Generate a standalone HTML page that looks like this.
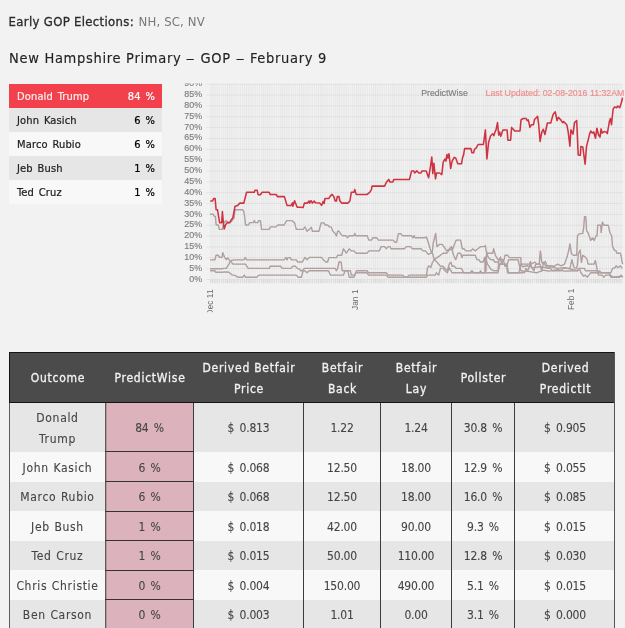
<!DOCTYPE html>
<html lang="en"><head><meta charset="utf-8"><title>PredictWise - New Hampshire Primary - GOP</title>
<style>
*{box-sizing:border-box}
html,body{margin:0;padding:0}
body{width:625px;height:628px;overflow:hidden;background:#f2f2f2;font-family:"DejaVu Sans Condensed","Liberation Sans",sans-serif;color:#222;position:relative;-webkit-text-stroke:.22px}
.abs{position:absolute;white-space:nowrap}
#nav{left:8.6px;top:13px;font-size:13px;line-height:18px;letter-spacing:.32px;color:#2b2b2b}
#nav b{font-weight:normal;-webkit-text-stroke:.3px}
#nav span{color:#777;-webkit-text-stroke:0;letter-spacing:.15px;margin-left:.5px}
#nav a{color:#777;text-decoration:none}
#title{left:9px;top:47px;font-size:14.5px;line-height:22px;letter-spacing:.7px;word-spacing:0;color:#222;font-weight:normal;margin:0;-webkit-text-stroke:.12px}
#title i{font-style:normal;display:inline-block;transform:scaleX(1.35);margin:0 1.1px}
#list{left:9px;top:84px;width:153px;margin:0;padding:0;list-style:none}
#list li{height:23.92px;line-height:23.9px;font-size:11px;letter-spacing:.15px;word-spacing:1.5px;padding:1px 7px 0 8px;display:flex;justify-content:space-between;color:#222}
#list li:nth-child(even){background:#e6e6e6}
#list li:nth-child(odd){background:#f8f8f8}
#list li.sel{background:#f2414d;color:#fdeeee}
#list li b{font-weight:normal;color:#000}
#list li.sel b{color:#fff}
#chart{left:0;top:0;width:625px;height:628px;pointer-events:none}
#chart text{font-family:"Liberation Sans",sans-serif;-webkit-text-stroke:0 transparent;stroke-width:.18px;stroke-linejoin:round}
#chart text.rl{stroke:none;letter-spacing:.1px}
#chart{filter:blur(.35px)}
#tbl{display:block;left:0;top:0;width:625px;height:628px;font-size:12px;letter-spacing:.6px;text-align:center;border-collapse:separate;border-spacing:0;margin:0;padding:0}
#tbl thead,#tbl tbody{display:block}
#tbl .r{display:block}
#tbl th,#tbl td{font-weight:normal;padding:0;margin:0}
#tl{left:0;top:0;width:625px;height:628px}
#tbl .r{position:absolute;left:9px;width:606px}
#tbl .c{position:absolute;top:0;height:100%;display:flex;align-items:center;justify-content:center;line-height:21px;white-space:normal;color:#444;padding-top:3px;-webkit-text-stroke:.1px;letter-spacing:-.2px;word-spacing:2px}
#tbl .c.n{letter-spacing:.68px;word-spacing:.5px}
#tbl .h{background:#4b4b4b;border-top:1px solid #141414}
#tbl .h .c{color:#f2f2f2;letter-spacing:.75px;word-spacing:0;-webkit-text-stroke:.3px;padding-top:1px;padding-left:1px}
#tbl .o{background:#e6e6e6}
#tbl .e{background:#f8f8f8}
#tbl .pw{background:#dcb3bd}
#tl .vl{position:absolute;width:1px;background:#3c3c3c}
#tl .hl{position:absolute;height:1px;background:#333}
</style></head>
<body>
<div id="nav" class="abs"><b>Early GOP Elections:</b> <span><a>NH</a>, <a>SC</a>, <a>NV</a></span></div>
<h2 id="title" class="abs">New Hampshire Primary <i>–</i> GOP <i>–</i> February 9</h2>
<ul id="list" class="abs"><li class=sel><span>Donald Trump</span><b>84 %</b></li><li><span>John Kasich</span><b>6 %</b></li><li><span>Marco Rubio</span><b>6 %</b></li><li><span>Jeb Bush</span><b>1 %</b></li><li><span>Ted Cruz</span><b>1 %</b></li></ul>
<svg id="chart" class="abs" width="625" height="628" viewBox="0 0 625 628">
<defs><clipPath id="cp"><rect x="170" y="83.4" width="455" height="228.8"/></clipPath><pattern id="vg" x="210.2" y="0" width="2.115" height="10" patternUnits="userSpaceOnUse"><rect x="0" y="0" width="1.05" height="10" fill="#e7e7e7"/></pattern><pattern id="vt" x="210.2" y="0" width="2.115" height="10" patternUnits="userSpaceOnUse"><rect x="0" y="0" width="1.05" height="10" fill="#d9d9d9"/></pattern></defs>
<g clip-path="url(#cp)">
<rect x="210.2" y="75" width="412.59999999999997" height="208.2" fill="#f2f2f2"/>
<rect x="210.2" y="75" width="412.59999999999997" height="208.2" fill="url(#vg)"/>
<rect x="210.2" y="280" width="412.59999999999997" height="3.2" fill="url(#vt)"/>
<line x1="206" x2="622.8" y1="279.50" y2="279.50" stroke="#000" stroke-opacity=".06" stroke-width="0.9"/>
<text transform="translate(202.1,281.80) scale(.95,1)" font-size="9.4" fill="#808080" stroke="#808080" text-anchor="end">0%</text>
<line x1="206" x2="622.8" y1="268.65" y2="268.65" stroke="#000" stroke-opacity=".06" stroke-width="0.9"/>
<text transform="translate(202.1,270.93) scale(.95,1)" font-size="9.4" fill="#808080" stroke="#808080" text-anchor="end">5%</text>
<line x1="206" x2="622.8" y1="257.80" y2="257.80" stroke="#000" stroke-opacity=".06" stroke-width="0.9"/>
<text transform="translate(202.1,260.06) scale(.95,1)" font-size="9.4" fill="#808080" stroke="#808080" text-anchor="end">10%</text>
<line x1="206" x2="622.8" y1="246.95" y2="246.95" stroke="#000" stroke-opacity=".06" stroke-width="0.9"/>
<text transform="translate(202.1,249.19) scale(.95,1)" font-size="9.4" fill="#808080" stroke="#808080" text-anchor="end">15%</text>
<line x1="206" x2="622.8" y1="236.10" y2="236.10" stroke="#000" stroke-opacity=".06" stroke-width="0.9"/>
<text transform="translate(202.1,238.32) scale(.95,1)" font-size="9.4" fill="#808080" stroke="#808080" text-anchor="end">20%</text>
<line x1="206" x2="622.8" y1="225.25" y2="225.25" stroke="#000" stroke-opacity=".06" stroke-width="0.9"/>
<text transform="translate(202.1,227.45) scale(.95,1)" font-size="9.4" fill="#808080" stroke="#808080" text-anchor="end">25%</text>
<line x1="206" x2="622.8" y1="214.40" y2="214.40" stroke="#000" stroke-opacity=".06" stroke-width="0.9"/>
<text transform="translate(202.1,216.58) scale(.95,1)" font-size="9.4" fill="#808080" stroke="#808080" text-anchor="end">30%</text>
<line x1="206" x2="622.8" y1="203.55" y2="203.55" stroke="#000" stroke-opacity=".06" stroke-width="0.9"/>
<text transform="translate(202.1,205.71) scale(.95,1)" font-size="9.4" fill="#808080" stroke="#808080" text-anchor="end">35%</text>
<line x1="206" x2="622.8" y1="192.70" y2="192.70" stroke="#000" stroke-opacity=".06" stroke-width="0.9"/>
<text transform="translate(202.1,194.84) scale(.95,1)" font-size="9.4" fill="#808080" stroke="#808080" text-anchor="end">40%</text>
<line x1="206" x2="622.8" y1="181.85" y2="181.85" stroke="#000" stroke-opacity=".06" stroke-width="0.9"/>
<text transform="translate(202.1,183.97) scale(.95,1)" font-size="9.4" fill="#808080" stroke="#808080" text-anchor="end">45%</text>
<line x1="206" x2="622.8" y1="171.00" y2="171.00" stroke="#000" stroke-opacity=".06" stroke-width="0.9"/>
<text transform="translate(202.1,173.10) scale(.95,1)" font-size="9.4" fill="#808080" stroke="#808080" text-anchor="end">50%</text>
<line x1="206" x2="622.8" y1="160.15" y2="160.15" stroke="#000" stroke-opacity=".06" stroke-width="0.9"/>
<text transform="translate(202.1,162.23) scale(.95,1)" font-size="9.4" fill="#808080" stroke="#808080" text-anchor="end">55%</text>
<line x1="206" x2="622.8" y1="149.30" y2="149.30" stroke="#000" stroke-opacity=".06" stroke-width="0.9"/>
<text transform="translate(202.1,151.36) scale(.95,1)" font-size="9.4" fill="#808080" stroke="#808080" text-anchor="end">60%</text>
<line x1="206" x2="622.8" y1="138.45" y2="138.45" stroke="#000" stroke-opacity=".06" stroke-width="0.9"/>
<text transform="translate(202.1,140.49) scale(.95,1)" font-size="9.4" fill="#808080" stroke="#808080" text-anchor="end">65%</text>
<line x1="206" x2="622.8" y1="127.60" y2="127.60" stroke="#000" stroke-opacity=".06" stroke-width="0.9"/>
<text transform="translate(202.1,129.62) scale(.95,1)" font-size="9.4" fill="#808080" stroke="#808080" text-anchor="end">70%</text>
<line x1="206" x2="622.8" y1="116.75" y2="116.75" stroke="#000" stroke-opacity=".06" stroke-width="0.9"/>
<text transform="translate(202.1,118.75) scale(.95,1)" font-size="9.4" fill="#808080" stroke="#808080" text-anchor="end">75%</text>
<line x1="206" x2="622.8" y1="105.90" y2="105.90" stroke="#000" stroke-opacity=".06" stroke-width="0.9"/>
<text transform="translate(202.1,107.88) scale(.95,1)" font-size="9.4" fill="#808080" stroke="#808080" text-anchor="end">80%</text>
<line x1="206" x2="622.8" y1="95.05" y2="95.05" stroke="#000" stroke-opacity=".06" stroke-width="0.9"/>
<text transform="translate(202.1,97.01) scale(.95,1)" font-size="9.4" fill="#808080" stroke="#808080" text-anchor="end">85%</text>
<line x1="206" x2="622.8" y1="84.20" y2="84.20" stroke="#000" stroke-opacity=".06" stroke-width="0.9"/>
<text transform="translate(202.1,86.14) scale(.95,1)" font-size="9.4" fill="#808080" stroke="#808080" text-anchor="end">90%</text>
<polyline fill="none" stroke="#ababab" stroke-width="1.4" stroke-linejoin="round" points="210.2,270.7 214.9,270.7 215.8,272.3 222.8,272.3 224.5,271.9 228.9,272.3 232.4,275.1 235.0,275.4 237.7,277.2 242.9,277.2 244.3,275.1 245.5,277.2 256.9,277.2 258.7,275.1 296.3,275.1 298.1,277.2 300.0,277.2 301.4,277.2 303.1,270.7 304.9,270.7 307.0,272.8 309.3,270.7 328.5,270.7 330.3,275.1 343.4,275.1 345.2,270.7 347.8,270.7 349.2,277.2 353.9,277.2 355.7,272.8 367.1,272.8 368.5,275.1 386.3,275.1 388.1,277.2 390.0,277.2 426.4,277.2 427.6,275.1 435.2,275.1 436.4,272.8 438.7,275.1 440.4,268.4 443.1,268.4 444.8,270.7 447.4,272.8 449.2,267.6 450.9,270.7 452.1,272.8 471.1,272.8 498.0,272.8 499.8,264.1 506.8,264.1 508.5,272.8 522.5,272.8 526.0,271.1 531.3,271.9 536.5,272.8 543.6,270.2 548.8,271.1 557.6,269.7 564.6,271.1 577.5,270.7 579.3,268.4 581.0,272.8 583.7,276.3 585.4,275.1 587.2,277.2 588.9,275.1 590.7,272.8 596.8,272.8 609.1,272.8 610.8,277.2 622.7,276.3"/>
<polyline fill="none" stroke="#cc7c7c" stroke-opacity=".8" stroke-width=".7" stroke-dasharray="1.1 1" stroke-linejoin="round" points="210.2,270.7 214.9,270.7 215.8,272.3 222.8,272.3 224.5,271.9 228.9,272.3 232.4,275.1 235.0,275.4 237.7,277.2 242.9,277.2 244.3,275.1 245.5,277.2 256.9,277.2 258.7,275.1 296.3,275.1 298.1,277.2 300.0,277.2 301.4,277.2 303.1,270.7 304.9,270.7 307.0,272.8 309.3,270.7 328.5,270.7 330.3,275.1 343.4,275.1 345.2,270.7 347.8,270.7 349.2,277.2 353.9,277.2 355.7,272.8 367.1,272.8 368.5,275.1 386.3,275.1 388.1,277.2 390.0,277.2 426.4,277.2 427.6,275.1 435.2,275.1 436.4,272.8 438.7,275.1 440.4,268.4 443.1,268.4 444.8,270.7 447.4,272.8 449.2,267.6 450.9,270.7 452.1,272.8 471.1,272.8 498.0,272.8 499.8,264.1 506.8,264.1 508.5,272.8 522.5,272.8 526.0,271.1 531.3,271.9 536.5,272.8 543.6,270.2 548.8,271.1 557.6,269.7 564.6,271.1 577.5,270.7 579.3,268.4 581.0,272.8 583.7,276.3 585.4,275.1 587.2,277.2 588.9,275.1 590.7,272.8 596.8,272.8 609.1,272.8 610.8,277.2 622.7,276.3"/>
<polyline fill="none" stroke="#ababab" stroke-width="1.4" stroke-linejoin="round" points="210.2,259.9 214.9,259.9 216.1,255.3 218.4,255.3 219.3,257.4 221.9,257.4 222.8,252.7 224.5,257.1 226.3,259.7 227.7,257.9 229.8,260.6 231.5,262.3 232.9,264.1 245.5,264.1 248.2,268.4 269.2,268.4 270.1,266.2 280.6,266.2 282.3,268.4 291.1,268.4 292.8,266.2 295.4,266.2 297.2,268.4 300.0,269.3 300.5,270.7 302.3,270.7 304.4,268.4 335.2,268.4 336.4,270.7 337.6,268.4 339.0,262.0 341.1,262.0 342.2,270.7 350.4,270.7 351.3,275.1 354.8,275.1 356.6,270.7 367.1,270.7 368.5,272.8 386.3,272.8 388.1,275.1 390.0,275.1 390.5,275.1 402.8,275.1 404.5,277.2 407.1,277.2 408.9,275.1 426.4,275.1 427.6,267.6 429.0,265.8 430.8,267.6 432.5,262.3 434.3,259.7 436.9,262.0 440.4,266.3 443.1,266.3 445.1,268.4 447.4,270.7 449.2,264.1 450.9,262.3 452.1,266.3 454.4,266.3 456.2,268.4 461.4,268.4 463.7,272.8 470.2,272.8 471.9,270.7 473.7,272.8 474.4,272.8 479.6,272.8 480.5,270.7 481.4,272.8 484.9,272.8 485.4,257.1 487.5,264.1 491.0,269.3 493.6,270.7 498.0,270.7 498.9,259.7 500.6,257.1 501.5,264.1 503.3,259.7 505.0,266.3 506.8,266.3 507.6,272.8 519.0,272.8 520.8,264.1 522.5,266.7 527.8,265.8 533.0,267.6 540.0,266.7 545.3,267.6 550.6,266.7 557.6,268.4 564.6,267.6 577.5,270.7 579.3,268.4 584.5,268.4 585.4,270.7 596.8,270.7 598.6,275.1 602.1,275.1 603.8,277.2 605.6,275.1 610.8,275.1 612.6,277.2 619.6,277.2 621.0,275.1 622.7,277.2"/>
<polyline fill="none" stroke="#cc7c7c" stroke-opacity=".8" stroke-width=".7" stroke-dasharray="1.1 1" stroke-linejoin="round" points="210.2,259.9 214.9,259.9 216.1,255.3 218.4,255.3 219.3,257.4 221.9,257.4 222.8,252.7 224.5,257.1 226.3,259.7 227.7,257.9 229.8,260.6 231.5,262.3 232.9,264.1 245.5,264.1 248.2,268.4 269.2,268.4 270.1,266.2 280.6,266.2 282.3,268.4 291.1,268.4 292.8,266.2 295.4,266.2 297.2,268.4 300.0,269.3 300.5,270.7 302.3,270.7 304.4,268.4 335.2,268.4 336.4,270.7 337.6,268.4 339.0,262.0 341.1,262.0 342.2,270.7 350.4,270.7 351.3,275.1 354.8,275.1 356.6,270.7 367.1,270.7 368.5,272.8 386.3,272.8 388.1,275.1 390.0,275.1 390.5,275.1 402.8,275.1 404.5,277.2 407.1,277.2 408.9,275.1 426.4,275.1 427.6,267.6 429.0,265.8 430.8,267.6 432.5,262.3 434.3,259.7 436.9,262.0 440.4,266.3 443.1,266.3 445.1,268.4 447.4,270.7 449.2,264.1 450.9,262.3 452.1,266.3 454.4,266.3 456.2,268.4 461.4,268.4 463.7,272.8 470.2,272.8 471.9,270.7 473.7,272.8 474.4,272.8 479.6,272.8 480.5,270.7 481.4,272.8 484.9,272.8 485.4,257.1 487.5,264.1 491.0,269.3 493.6,270.7 498.0,270.7 498.9,259.7 500.6,257.1 501.5,264.1 503.3,259.7 505.0,266.3 506.8,266.3 507.6,272.8 519.0,272.8 520.8,264.1 522.5,266.7 527.8,265.8 533.0,267.6 540.0,266.7 545.3,267.6 550.6,266.7 557.6,268.4 564.6,267.6 577.5,270.7 579.3,268.4 584.5,268.4 585.4,270.7 596.8,270.7 598.6,275.1 602.1,275.1 603.8,277.2 605.6,275.1 610.8,275.1 612.6,277.2 619.6,277.2 621.0,275.1 622.7,277.2"/>
<polyline fill="none" stroke="#ababab" stroke-width="1.4" stroke-linejoin="round" points="210.2,268.8 221.9,268.8 223.6,268.4 226.3,268.4 228.9,264.1 230.7,260.6 234.2,259.9 243.8,259.9 245.2,257.6 246.6,259.9 284.1,259.9 285.8,257.6 287.0,259.9 287.9,257.6 290.2,257.6 291.4,259.9 296.3,259.9 297.7,262.0 300.0,262.0 302.3,262.0 304.9,257.4 307.0,259.7 309.3,257.4 321.5,257.4 323.3,259.7 325.9,262.0 327.6,262.0 328.9,257.6 336.4,257.6 337.6,255.3 341.7,255.3 343.4,248.8 346.4,253.2 349.2,248.8 351.3,250.9 353.9,250.9 356.2,253.2 367.1,253.2 368.8,250.9 379.3,250.9 381.1,246.6 384.6,246.6 386.3,248.8 388.4,246.6 390.0,246.6 390.9,248.8 404.5,248.8 406.3,246.6 410.6,246.6 412.4,248.8 421.2,248.8 422.9,250.9 425.5,250.9 428.2,254.4 430.8,253.2 432.5,253.2 434.3,259.7 436.9,257.6 440.4,255.3 443.1,253.2 446.6,253.2 449.2,250.1 451.8,248.8 453.6,255.3 455.7,259.7 457.9,253.2 460.6,253.2 462.0,257.6 462.7,255.3 471.1,255.3 475.2,255.3 477.0,259.7 478.8,259.7 480.5,262.0 483.1,262.0 484.9,257.1 485.9,271.1 486.6,253.2 488.4,257.6 491.0,259.7 493.6,259.7 494.5,262.0 498.0,262.0 498.9,264.1 505.0,264.1 506.8,266.3 508.5,259.7 512.0,259.7 515.5,259.7 518.2,259.7 519.0,264.1 520.8,270.7 522.5,270.7 524.3,272.8 526.0,268.4 527.8,270.7 530.4,264.1 532.2,268.4 533.9,270.7 535.7,264.1 540.0,264.1 541.8,270.7 543.6,262.3 547.1,268.4 550.6,268.4 552.3,270.7 561.1,270.7 562.8,268.4 570.0,268.4 570.5,265.8 571.9,259.7 574.0,267.6 576.7,268.4 577.5,264.1 578.4,253.6 580.2,250.1 581.4,262.3 582.8,255.3 585.4,257.1 587.2,259.7 588.0,264.1 594.2,264.1 595.4,260.6 596.8,267.6 597.7,272.8 599.4,270.7 601.2,272.8 610.8,272.8 612.6,268.4 615.2,267.6 616.1,265.8 617.8,267.6 620.5,265.8 622.2,268.4"/>
<polyline fill="none" stroke="#cc7c7c" stroke-opacity=".8" stroke-width=".7" stroke-dasharray="1.1 1" stroke-linejoin="round" points="210.2,268.8 221.9,268.8 223.6,268.4 226.3,268.4 228.9,264.1 230.7,260.6 234.2,259.9 243.8,259.9 245.2,257.6 246.6,259.9 284.1,259.9 285.8,257.6 287.0,259.9 287.9,257.6 290.2,257.6 291.4,259.9 296.3,259.9 297.7,262.0 300.0,262.0 302.3,262.0 304.9,257.4 307.0,259.7 309.3,257.4 321.5,257.4 323.3,259.7 325.9,262.0 327.6,262.0 328.9,257.6 336.4,257.6 337.6,255.3 341.7,255.3 343.4,248.8 346.4,253.2 349.2,248.8 351.3,250.9 353.9,250.9 356.2,253.2 367.1,253.2 368.8,250.9 379.3,250.9 381.1,246.6 384.6,246.6 386.3,248.8 388.4,246.6 390.0,246.6 390.9,248.8 404.5,248.8 406.3,246.6 410.6,246.6 412.4,248.8 421.2,248.8 422.9,250.9 425.5,250.9 428.2,254.4 430.8,253.2 432.5,253.2 434.3,259.7 436.9,257.6 440.4,255.3 443.1,253.2 446.6,253.2 449.2,250.1 451.8,248.8 453.6,255.3 455.7,259.7 457.9,253.2 460.6,253.2 462.0,257.6 462.7,255.3 471.1,255.3 475.2,255.3 477.0,259.7 478.8,259.7 480.5,262.0 483.1,262.0 484.9,257.1 485.9,271.1 486.6,253.2 488.4,257.6 491.0,259.7 493.6,259.7 494.5,262.0 498.0,262.0 498.9,264.1 505.0,264.1 506.8,266.3 508.5,259.7 512.0,259.7 515.5,259.7 518.2,259.7 519.0,264.1 520.8,270.7 522.5,270.7 524.3,272.8 526.0,268.4 527.8,270.7 530.4,264.1 532.2,268.4 533.9,270.7 535.7,264.1 540.0,264.1 541.8,270.7 543.6,262.3 547.1,268.4 550.6,268.4 552.3,270.7 561.1,270.7 562.8,268.4 570.0,268.4 570.5,265.8 571.9,259.7 574.0,267.6 576.7,268.4 577.5,264.1 578.4,253.6 580.2,250.1 581.4,262.3 582.8,255.3 585.4,257.1 587.2,259.7 588.0,264.1 594.2,264.1 595.4,260.6 596.8,267.6 597.7,272.8 599.4,270.7 601.2,272.8 610.8,272.8 612.6,268.4 615.2,267.6 616.1,265.8 617.8,267.6 620.5,265.8 622.2,268.4"/>
<polyline fill="none" stroke="#ababab" stroke-width="1.4" stroke-linejoin="round" points="210.2,214.2 213.1,214.2 214.4,216.4 215.4,216.4 216.1,224.7 218.4,225.2 219.3,229.4 222.4,229.4 223.6,222.9 226.3,220.6 228.0,222.9 230.7,222.0 232.4,220.3 234.2,217.7 235.0,209.8 242.9,209.8 244.1,212.4 245.5,225.0 248.2,225.0 249.9,222.6 253.4,222.6 254.3,220.6 255.3,222.6 257.8,222.6 258.7,220.6 260.4,220.6 261.6,229.4 269.2,229.4 270.4,226.9 276.2,226.9 277.9,225.0 284.1,225.0 286.7,220.6 291.9,220.6 294.6,222.9 296.3,229.4 300.0,229.4 303.1,229.4 304.9,226.9 307.0,231.3 309.3,229.4 311.4,227.3 312.4,231.3 318.9,231.3 321.2,222.9 324.1,222.9 325.0,225.0 327.6,225.0 329.4,226.9 331.2,226.9 332.9,231.3 335.2,233.4 336.4,236.0 337.6,231.3 339.0,231.3 340.8,233.9 342.5,235.7 346.4,235.7 347.4,237.8 349.2,235.7 353.9,235.7 354.8,233.4 355.7,235.7 367.1,235.7 368.8,240.1 371.4,240.1 372.7,237.8 376.7,237.8 378.4,240.1 390.0,240.1 393.1,240.1 394.9,242.2 396.6,242.2 398.4,233.8 401.0,233.8 402.4,235.7 411.5,235.7 412.9,237.8 414.1,235.7 415.0,237.8 424.7,237.8 426.4,236.9 428.2,242.2 430.8,250.9 432.2,252.7 433.4,242.2 435.7,233.4 436.9,246.6 439.5,244.4 442.2,244.4 443.9,246.6 446.6,250.9 449.2,249.2 451.4,246.6 452.7,249.2 454.4,244.4 456.2,240.1 460.6,240.1 462.3,248.8 464.1,248.8 465.8,250.9 471.1,250.9 472.6,248.8 475.2,250.9 477.9,248.8 480.5,246.6 484.0,246.6 485.4,245.7 486.1,250.9 487.5,253.2 492.8,253.2 493.6,248.8 495.4,255.3 498.0,259.7 504.1,259.7 505.0,255.3 507.6,255.3 509.4,257.6 520.8,257.6 521.1,264.1 529.5,264.1 530.4,261.4 531.3,264.1 534.8,262.0 536.5,264.1 539.2,264.1 540.4,250.9 541.8,262.3 543.6,264.1 545.3,261.4 547.1,265.8 550.6,265.8 554.1,266.3 557.6,264.1 561.1,265.8 564.6,264.1 567.0,257.1 568.8,250.1 570.0,243.9 571.4,253.6 573.2,255.3 576.7,255.3 577.5,236.0 578.9,233.9 582.8,233.4 583.7,227.3 584.5,216.8 585.8,216.8 586.6,230.8 588.0,232.5 589.8,237.8 590.7,240.4 592.4,237.8 594.2,240.4 595.9,236.0 597.1,235.7 597.7,225.2 600.7,225.2 601.2,232.5 602.4,222.0 603.8,225.2 608.2,225.2 609.9,232.5 611.7,236.0 612.6,246.6 614.3,250.1 616.1,250.9 616.9,253.2 620.5,253.2 621.3,257.1 622.2,262.3 622.7,264.1"/>
<polyline fill="none" stroke="#cc7c7c" stroke-opacity=".8" stroke-width=".7" stroke-dasharray="1.1 1" stroke-linejoin="round" points="210.2,214.2 213.1,214.2 214.4,216.4 215.4,216.4 216.1,224.7 218.4,225.2 219.3,229.4 222.4,229.4 223.6,222.9 226.3,220.6 228.0,222.9 230.7,222.0 232.4,220.3 234.2,217.7 235.0,209.8 242.9,209.8 244.1,212.4 245.5,225.0 248.2,225.0 249.9,222.6 253.4,222.6 254.3,220.6 255.3,222.6 257.8,222.6 258.7,220.6 260.4,220.6 261.6,229.4 269.2,229.4 270.4,226.9 276.2,226.9 277.9,225.0 284.1,225.0 286.7,220.6 291.9,220.6 294.6,222.9 296.3,229.4 300.0,229.4 303.1,229.4 304.9,226.9 307.0,231.3 309.3,229.4 311.4,227.3 312.4,231.3 318.9,231.3 321.2,222.9 324.1,222.9 325.0,225.0 327.6,225.0 329.4,226.9 331.2,226.9 332.9,231.3 335.2,233.4 336.4,236.0 337.6,231.3 339.0,231.3 340.8,233.9 342.5,235.7 346.4,235.7 347.4,237.8 349.2,235.7 353.9,235.7 354.8,233.4 355.7,235.7 367.1,235.7 368.8,240.1 371.4,240.1 372.7,237.8 376.7,237.8 378.4,240.1 390.0,240.1 393.1,240.1 394.9,242.2 396.6,242.2 398.4,233.8 401.0,233.8 402.4,235.7 411.5,235.7 412.9,237.8 414.1,235.7 415.0,237.8 424.7,237.8 426.4,236.9 428.2,242.2 430.8,250.9 432.2,252.7 433.4,242.2 435.7,233.4 436.9,246.6 439.5,244.4 442.2,244.4 443.9,246.6 446.6,250.9 449.2,249.2 451.4,246.6 452.7,249.2 454.4,244.4 456.2,240.1 460.6,240.1 462.3,248.8 464.1,248.8 465.8,250.9 471.1,250.9 472.6,248.8 475.2,250.9 477.9,248.8 480.5,246.6 484.0,246.6 485.4,245.7 486.1,250.9 487.5,253.2 492.8,253.2 493.6,248.8 495.4,255.3 498.0,259.7 504.1,259.7 505.0,255.3 507.6,255.3 509.4,257.6 520.8,257.6 521.1,264.1 529.5,264.1 530.4,261.4 531.3,264.1 534.8,262.0 536.5,264.1 539.2,264.1 540.4,250.9 541.8,262.3 543.6,264.1 545.3,261.4 547.1,265.8 550.6,265.8 554.1,266.3 557.6,264.1 561.1,265.8 564.6,264.1 567.0,257.1 568.8,250.1 570.0,243.9 571.4,253.6 573.2,255.3 576.7,255.3 577.5,236.0 578.9,233.9 582.8,233.4 583.7,227.3 584.5,216.8 585.8,216.8 586.6,230.8 588.0,232.5 589.8,237.8 590.7,240.4 592.4,237.8 594.2,240.4 595.9,236.0 597.1,235.7 597.7,225.2 600.7,225.2 601.2,232.5 602.4,222.0 603.8,225.2 608.2,225.2 609.9,232.5 611.7,236.0 612.6,246.6 614.3,250.1 616.1,250.9 616.9,253.2 620.5,253.2 621.3,257.1 622.2,262.3 622.7,264.1"/>
<polyline fill="none" stroke="#cf3340" stroke-width="1.55" stroke-linejoin="round" points="210.2,201.0 212.6,201.0 213.7,198.4 215.1,198.4 216.1,209.8 217.5,209.8 219.6,222.6 221.7,222.6 222.4,211.5 223.3,222.0 224.2,229.0 225.6,224.7 227.2,222.6 229.8,222.6 231.5,219.4 232.9,217.7 235.0,206.3 237.7,205.4 239.9,203.1 243.8,203.1 246.6,192.3 254.3,192.3 255.0,190.2 257.1,190.2 258.1,194.7 260.4,194.7 262.2,192.3 269.2,192.3 270.1,194.4 276.2,194.4 277.4,196.6 284.4,196.6 287.0,205.4 291.1,205.4 292.5,202.8 292.8,206.3 294.6,200.7 297.2,207.2 300.0,207.2 303.1,207.5 304.4,203.1 307.5,203.1 308.9,201.0 309.6,203.1 311.0,200.7 312.4,203.1 314.2,201.0 315.4,202.8 319.8,203.1 321.5,205.4 323.3,201.4 324.1,203.6 325.0,198.4 328.9,198.4 330.3,196.1 332.0,194.4 333.8,196.6 335.2,201.0 336.4,201.0 337.3,196.6 339.0,196.6 339.9,201.0 341.7,203.1 347.8,203.1 349.9,201.0 351.3,192.3 353.9,192.3 354.8,189.6 356.2,194.4 367.1,194.4 369.7,192.3 371.4,189.6 372.1,186.1 384.6,186.1 386.6,181.9 388.7,179.4 389.8,181.9 392.9,181.9 393.9,179.4 409.5,179.4 411.6,170.9 413.7,170.9 414.7,173.0 416.8,170.9 418.9,173.0 421.0,173.0 422.0,170.9 426.2,170.9 428.6,177.8 430.3,167.3 431.8,157.0 432.8,173.6 433.9,163.2 435.5,178.8 436.6,173.0 439.7,173.0 441.8,174.6 443.2,162.2 444.9,159.0 445.9,161.1 447.0,154.5 448.0,158.0 449.0,153.8 450.7,168.4 452.1,161.1 454.2,157.4 455.7,158.0 457.8,163.8 461.5,163.8 462.6,157.4 463.6,154.9 464.6,148.6 470.9,148.6 471.9,152.8 473.6,152.8 474.4,149.3 476.1,148.2 478.1,144.5 483.4,144.5 485.4,129.9 486.9,159.0 488.6,142.4 490.6,135.7 492.7,133.7 493.8,135.7 495.0,132.0 496.0,129.9 497.5,122.6 498.7,135.1 499.6,132.0 500.8,136.2 502.9,129.9 507.1,129.9 507.9,140.3 510.6,140.3 511.6,127.4 514.8,131.0 520.0,131.0 521.0,119.9 523.1,118.5 526.2,118.5 527.2,120.6 528.3,119.9 529.9,127.4 531.4,124.7 533.5,124.7 534.5,119.5 537.6,116.4 538.7,124.7 540.1,141.4 541.8,132.0 543.2,129.3 544.9,134.5 547.4,123.0 550.7,123.0 553.2,114.3 555.3,111.8 557.0,120.6 558.4,117.4 560.5,119.5 562.6,122.6 563.6,121.6 566.8,124.7 568.2,132.0 569.9,146.1 570.9,129.9 573.0,134.1 574.5,122.6 576.7,120.6 578.2,154.9 580.3,155.3 580.9,146.6 582.8,147.0 585.1,164.2 586.5,146.6 589.6,134.1 590.7,131.0 592.3,133.0 593.8,132.0 595.5,138.2 596.9,128.2 598.4,134.5 600.0,137.2 601.1,128.9 602.1,133.0 604.2,131.6 606.3,132.0 607.3,133.7 609.4,121.6 610.4,118.5 611.5,124.7 613.1,109.1 614.6,107.0 616.7,107.7 617.7,106.0 619.8,107.7 621.9,100.8 622.5,97.7"/>
<text transform="translate(421.2,96) scale(.93,1)" font-size="9.4" fill="#808080" stroke="#808080">PredictWise</text>
<text transform="translate(485.6,96) scale(.935,1)" font-size="9.4" fill="#f28c8c" stroke="#f28c8c">Last Updated: 02-08-2016 11:32AM</text>
<text class="rl" transform="translate(213.4,315.4) rotate(-90) scale(.84,1)" font-size="9.8" fill="#6a6a6a">Dec 11</text>
<text class="rl" transform="translate(358.2,310) rotate(-90) scale(.84,1)" font-size="9.8" fill="#6a6a6a">Jan 1</text>
<text class="rl" transform="translate(573.6,310) rotate(-90) scale(.84,1)" font-size="9.8" fill="#6a6a6a">Feb 1</text>
</g></svg>
<table id="tbl" class="abs"><thead><tr class="r h" style="top:352px;height:50px"><th class="c" style="left:1px;width:95px">Outcome</th><th class="c" style="left:97px;width:87px">PredictWise</th><th class="c" style="left:185px;width:109px;padding-top:3px">Derived Betfair<br>Price</th><th class="c" style="left:295px;width:76px;padding-top:3px">Betfair<br>Back</th><th class="c" style="left:372px;width:70px;padding-top:3px">Betfair<br>Lay</th><th class="c" style="left:443px;width:62px">Pollster</th><th class="c" style="left:506px;width:100px;padding-top:3px">Derived<br>PredictIt</th></tr></thead><tbody><tr class="r o" style="top:402px;height:50px"><td class="c n" style="left:1px;width:95px">Donald<br>Trump</td><td class="c pw" style="left:97px;width:87px">84 %</td><td class="c" style="left:185px;width:109px">$ 0.813</td><td class="c" style="left:295px;width:76px">1.22</td><td class="c" style="left:372px;width:70px">1.24</td><td class="c" style="left:443px;width:62px">30.8 %</td><td class="c" style="left:506px;width:100px">$ 0.905</td></tr><tr class="r e" style="top:452px;height:29.5px"><td class="c n" style="left:1px;width:95px">John Kasich</td><td class="c pw" style="left:97px;width:87px">6 %</td><td class="c" style="left:185px;width:109px">$ 0.068</td><td class="c" style="left:295px;width:76px">12.50</td><td class="c" style="left:372px;width:70px">18.00</td><td class="c" style="left:443px;width:62px">12.9 %</td><td class="c" style="left:506px;width:100px">$ 0.055</td></tr><tr class="r o" style="top:481.5px;height:29.5px"><td class="c n" style="left:1px;width:95px">Marco Rubio</td><td class="c pw" style="left:97px;width:87px">6 %</td><td class="c" style="left:185px;width:109px">$ 0.068</td><td class="c" style="left:295px;width:76px">12.50</td><td class="c" style="left:372px;width:70px">18.00</td><td class="c" style="left:443px;width:62px">16.0 %</td><td class="c" style="left:506px;width:100px">$ 0.085</td></tr><tr class="r e" style="top:511px;height:29.5px"><td class="c n" style="left:1px;width:95px">Jeb Bush</td><td class="c pw" style="left:97px;width:87px">1 %</td><td class="c" style="left:185px;width:109px">$ 0.018</td><td class="c" style="left:295px;width:76px">42.00</td><td class="c" style="left:372px;width:70px">90.00</td><td class="c" style="left:443px;width:62px">9.3 %</td><td class="c" style="left:506px;width:100px">$ 0.015</td></tr><tr class="r o" style="top:540.5px;height:29.5px"><td class="c n" style="left:1px;width:95px">Ted Cruz</td><td class="c pw" style="left:97px;width:87px">1 %</td><td class="c" style="left:185px;width:109px">$ 0.015</td><td class="c" style="left:295px;width:76px">50.00</td><td class="c" style="left:372px;width:70px">110.00</td><td class="c" style="left:443px;width:62px">12.8 %</td><td class="c" style="left:506px;width:100px">$ 0.030</td></tr><tr class="r e" style="top:570px;height:29.5px"><td class="c n" style="left:1px;width:95px">Chris Christie</td><td class="c pw" style="left:97px;width:87px">0 %</td><td class="c" style="left:185px;width:109px">$ 0.004</td><td class="c" style="left:295px;width:76px">150.00</td><td class="c" style="left:372px;width:70px">490.00</td><td class="c" style="left:443px;width:62px">5.1 %</td><td class="c" style="left:506px;width:100px">$ 0.015</td></tr><tr class="r o" style="top:599.5px;height:29.5px"><td class="c n" style="left:1px;width:95px">Ben Carson</td><td class="c pw" style="left:97px;width:87px">0 %</td><td class="c" style="left:185px;width:109px">$ 0.003</td><td class="c" style="left:295px;width:76px">1.01</td><td class="c" style="left:372px;width:70px">0.00</td><td class="c" style="left:443px;width:62px">3.1 %</td><td class="c" style="left:506px;width:100px">$ 0.000</td></tr></tbody></table><div id="tl" class="abs"><div class="vl" style="left:9px;top:402px;height:226px;background:#5c5c5c"></div><div class="vl" style="left:105px;top:402px;height:226px;background:#5c5c5c"></div><div class="vl" style="left:193px;top:402px;height:226px"></div><div class="vl" style="left:303px;top:402px;height:226px"></div><div class="vl" style="left:380px;top:402px;height:226px"></div><div class="vl" style="left:451px;top:402px;height:226px"></div><div class="vl" style="left:514px;top:402px;height:226px"></div><div class="vl" style="left:9px;top:352px;height:51px;background:#141414"></div><div class="vl" style="left:614px;top:352px;height:276px;background:#555"></div><div class="vl" style="left:106px;top:403px;height:225px;background:rgba(60,30,40,.22)"></div><div class="hl" style="left:9px;width:605px;top:402px;background:#141414"></div><div class="hl" style="left:105px;width:89px;top:451px"></div><div class="hl" style="left:105px;width:89px;top:481px"></div><div class="hl" style="left:105px;width:89px;top:511px"></div><div class="hl" style="left:105px;width:89px;top:540px"></div><div class="hl" style="left:105px;width:89px;top:570px"></div><div class="hl" style="left:105px;width:89px;top:599px"></div></div>
</body></html>
